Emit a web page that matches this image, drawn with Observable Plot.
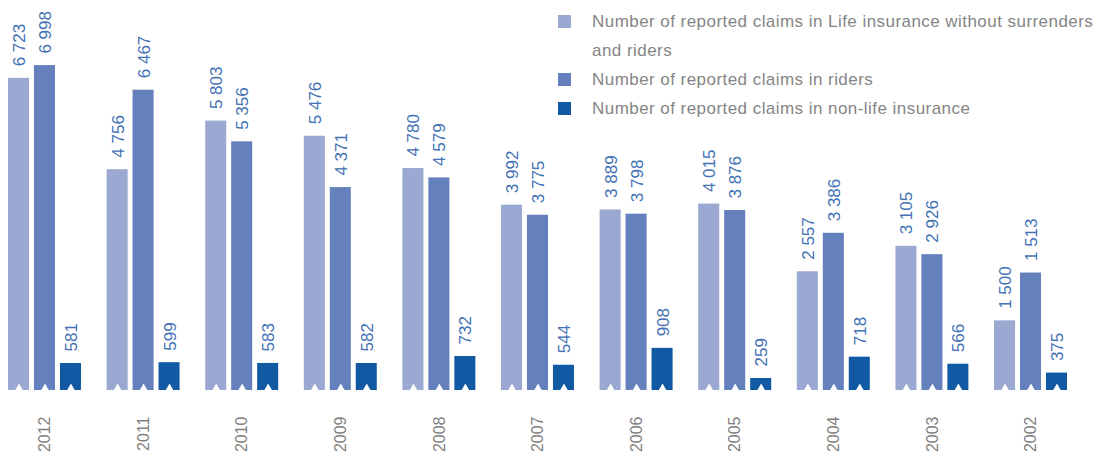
<!DOCTYPE html>
<html><head><meta charset="utf-8">
<script src="https://cdn.jsdelivr.net/npm/d3@7"></script>
<script src="https://cdn.jsdelivr.net/npm/@observablehq/plot@0.6"></script>
<style>
body{margin:0;background:#fff;font-family:"Liberation Sans",Arial,sans-serif;}
#wrap{position:relative;width:1103px;height:455px;}
#legend{position:absolute;left:558px;top:7px;font-size:17px;letter-spacing:0.45px;color:#858585;line-height:29px;white-space:nowrap;}
.item{position:relative;padding-left:34px;}
.sw{position:absolute;left:0;top:8px;width:13px;height:13px;}
</style></head><body><div id="wrap"><div id="legend"></div></div>
<script>
const years = ["2012","2011","2010","2009","2008","2007","2006","2005","2004","2003","2002"];
const seriesKeys = ["life","riders","nonlife"];
const seriesLabels = [
  "Number of reported claims in Life insurance without surrenders<br>and riders",
  "Number of reported claims in riders",
  "Number of reported claims in non-life insurance"
];
// values as printed on the bars
const lifeClaims    = [6723,4756,5803,5476,4780,3992,3889,4015,2557,3105,1500];
const riderClaims   = [6998,6467,5356,4371,4579,3775,3798,3876,3386,2926,1513];
const nonLifeClaims = [581,599,583,582,732,544,908,259,718,566,375];
// bar heights as drawn in the reference (the 2002 riders bar is drawn taller than its label)
const riderBarHeights = [6998,6467,5356,4371,4579,3775,3798,3876,3386,2926,2530];
const colors = ["#9aa8d2","#6480bd","#1259a3"];

const seriesValues = [lifeClaims, riderClaims, nonLifeClaims];
const seriesBars = [lifeClaims, riderBarHeights, nonLifeClaims];
const data = [];
years.forEach((y, i) => seriesKeys.forEach((k, j) =>
  data.push({year: y, series: k, value: seriesValues[j][i], bar: seriesBars[j][i]})));

const fmt = d3.formatLocale({decimal: ",", thousands: " ", grouping: [3], currency: ["", ""]}).format(",d");

const chart = Plot.plot({
  width: 1103,
  height: 455,
  marginLeft: 8,
  marginRight: 36,
  marginTop: 65,
  marginBottom: 65,
  style: {fontFamily: "'Liberation Sans', Arial, sans-serif", background: "#fff"},
  fx: {domain: years, paddingInner: 0.26, paddingOuter: 0, round: false, label: null},
  x: {domain: seriesKeys, paddingInner: 0.19, paddingOuter: 0, round: false, axis: null},
  y: {domain: [0, 7000], axis: null},
  color: {domain: seriesKeys, range: colors},
  marks: [
    Plot.barY(data, {fx: "year", x: "series", y: "bar", fill: "series"}),
    Plot.dot(data, {fx: "year", x: "series", y: d => 0, symbol: "triangle", r: 3, fill: "#fff", stroke: null, dy: -2.3}),
    Plot.text(data, {fx: "year", x: "series", y: "bar", text: d => fmt(d.value), rotate: -90, textAnchor: "start", lineAnchor: "middle", dy: -12, dx: 0.5, fill: "#4371b5", fontSize: 17}),
    Plot.axisFx({anchor: "bottom", tickRotate: -90, tickSize: 0, tickPadding: 26, fontSize: 16, fill: "#808080", label: null})
  ]
});
document.getElementById("wrap").prepend(chart);

const legend = document.getElementById("legend");
seriesLabels.forEach((t, i) => {
  const it = document.createElement("div");
  it.className = "item";
  it.innerHTML = `<span class="sw" style="background:${colors[i]}"></span>${t}`;
  legend.appendChild(it);
});
</script></body></html>
